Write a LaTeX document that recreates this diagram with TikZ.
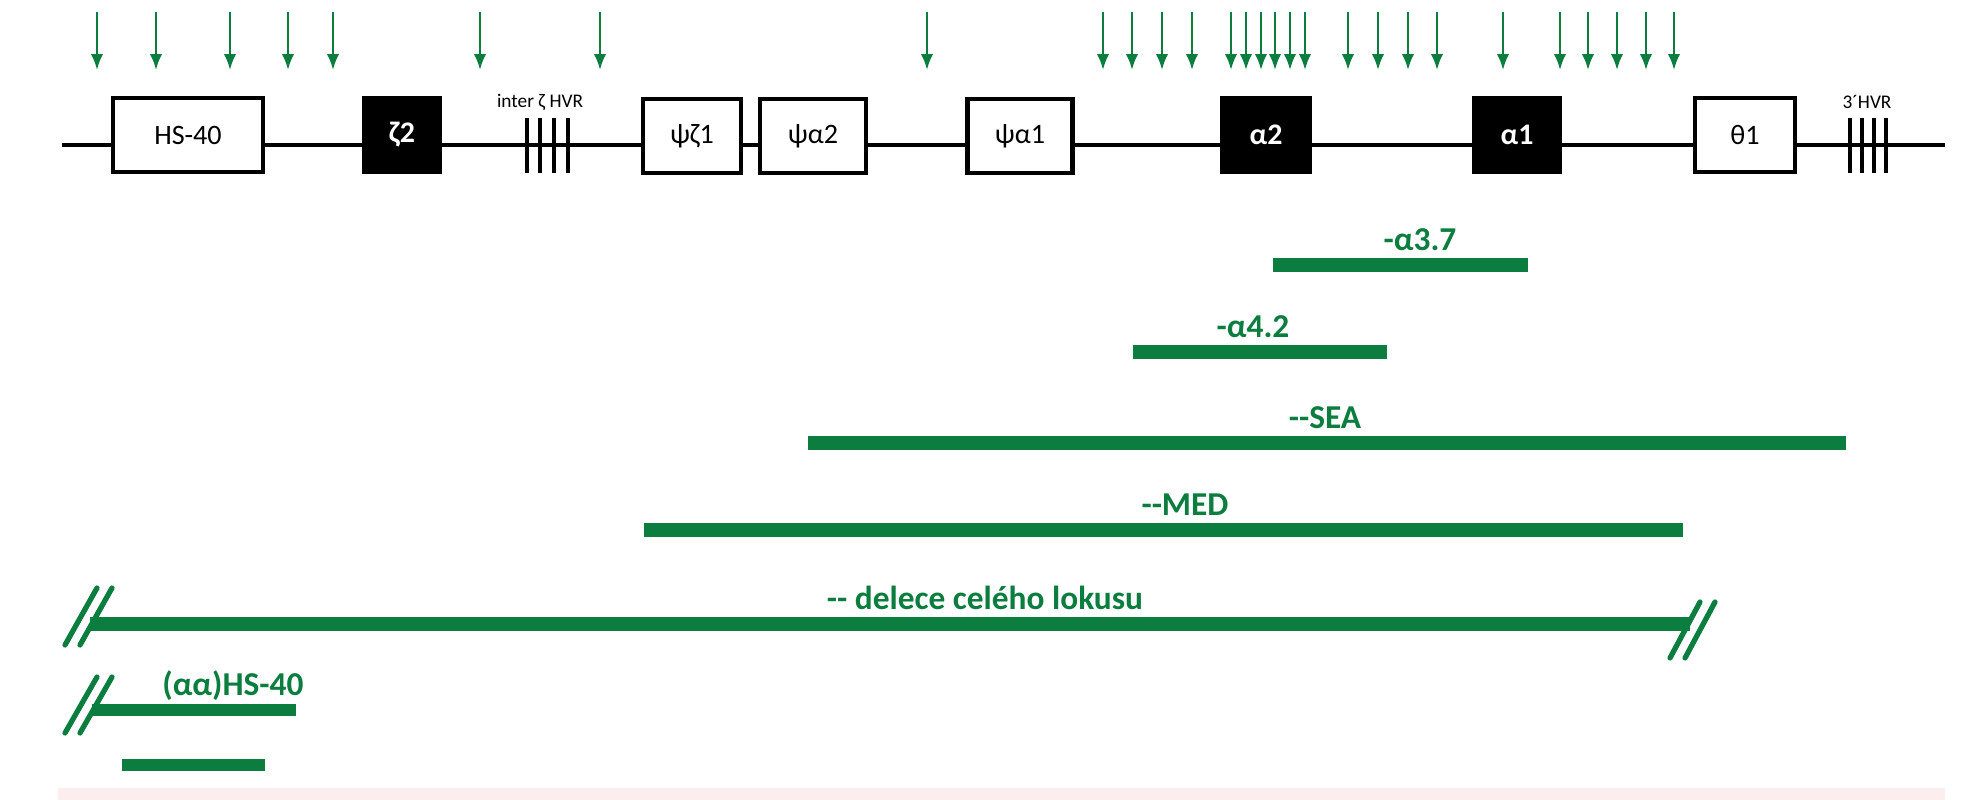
\documentclass[tikz,border=0pt]{standalone}
\usepackage{fontspec}
\setmainfont{Carlito}
\begin{document}
\begin{tikzpicture}[x=0.02cm,y=-0.02cm,
  gene/.style={draw=black,line width=2.3pt,fill=white,minimum height=74*0.02cm,inner sep=0pt,font=\fontsize{16}{18}\selectfont},
  dark/.style={gene,fill=black,text=white,font=\bfseries\fontsize{17}{19}\selectfont},
  hvr/.style={line width=2.4pt},
  arr/.style={draw=gc,line width=1.3pt,-{Latex[length=9pt,width=7pt]}},
  bar/.style={draw=gc,line width=8pt},
  sbar/.style={draw=gc,line width=7pt},
  slash/.style={draw=gc,line width=3pt,line cap=round},
  glab/.style={text=gc,font=\bfseries\fontsize{19}{21}\selectfont,inner sep=0pt},
  hlab/.style={font=\fontsize{11}{13}\selectfont,inner sep=0pt}]
\definecolor{gc}{HTML}{0B7D3E}
\definecolor{pk}{HTML}{FCEEEE}
\usetikzlibrary{arrows.meta}
\useasboundingbox (0,0) rectangle (1985,800);
\fill[pk] (58,788) rectangle (1945,800);
% backbone
\coordinate (L) at (62,145); \coordinate (R) at (1945,145);
\draw[line width=2.8pt] (L) -- (R);
% genes
\node[gene,minimum width=150*0.02cm] (hs) at (188,135) {HS-40};
\node[dark,minimum width=76*0.02cm] (z2) at (402,135) {ζ2};
\node[gene,minimum width=98*0.02cm] (pz1) at (692,136) {ψζ1};
\node[gene,minimum width=106*0.02cm] (pa2) at (813,136) {ψα2};
\node[gene,minimum width=105*0.02cm] (pa1) at (1020,136) {ψα1};
\node[dark,minimum width=88*0.02cm] (a2) at (1266,135) {α2};
\node[dark,minimum width=85*0.02cm] (a1) at (1517,135) {α1};
\node[gene,minimum width=100*0.02cm] (t1) at (1745,135) {θ1};
% HVR
\foreach \x in {527,540,554,568} \draw[hvr] (\x,118) -- (\x,173);
\node[hlab] (ihvr) at (540,102) {inter ζ HVR};
\foreach \x in {1850,1862,1874,1886} \draw[hvr] (\x,118) -- (\x,173);
\node[hlab] (thvr) at (1867,102) {3´HVR};
% arrows
\foreach \x in {97,156,230,288,333,480,600,927,1103,1132,1162,1192,1231,1246,1261,1275,1290,1305,1348,1378,1408,1437,1503,1560,1588,1617,1646,1674}
  \draw[arr] (\x,12) -- (\x,70);
% deletions
\coordinate (a37l) at (1273,265); \coordinate (a37r) at (1528,265);
\draw[bar] (a37l) -- (a37r); \node[glab] (la37) at (1420,240) {-α3.7};
\coordinate (a42l) at (1133,352); \coordinate (a42r) at (1387,352);
\draw[bar] (a42l) -- (a42r); \node[glab] (la42) at (1253,327) {-α4.2};
\coordinate (seal) at (808,443); \coordinate (sear) at (1846,443);
\draw[bar] (seal) -- (sear); \node[glab] (lsea) at (1325,418) {-{}-SEA};
\coordinate (medl) at (644,530); \coordinate (medr) at (1683,530);
\draw[bar] (medl) -- (medr); \node[glab] (lmed) at (1185,505) {-{}-MED};
\coordinate (dell) at (90,624); \coordinate (delr) at (1690,624);
\draw[bar] (dell) -- (delr); \node[glab] (ldel) at (985,598) {-{}- delece celého lokusu};
\draw[slash] (65,645) -- (97,588); \draw[slash] (80,645) -- (112,588);
\draw[slash] (1670,658) -- (1700,602); \draw[slash] (1685,658) -- (1715,602);
\coordinate (hsl) at (92,710); \coordinate (hsr) at (296,710);
\draw[sbar] (hsl) -- (hsr); \node[glab,anchor=west] (lhs) at (162,686) {(αα)HS-40};
\draw[slash] (65,733) -- (97,677); \draw[slash] (80,733) -- (112,677);
\coordinate (l7l) at (122,765); \coordinate (l7r) at (265,765);
\draw[sbar] (l7l) -- (l7r);
\end{tikzpicture}
\end{document}
